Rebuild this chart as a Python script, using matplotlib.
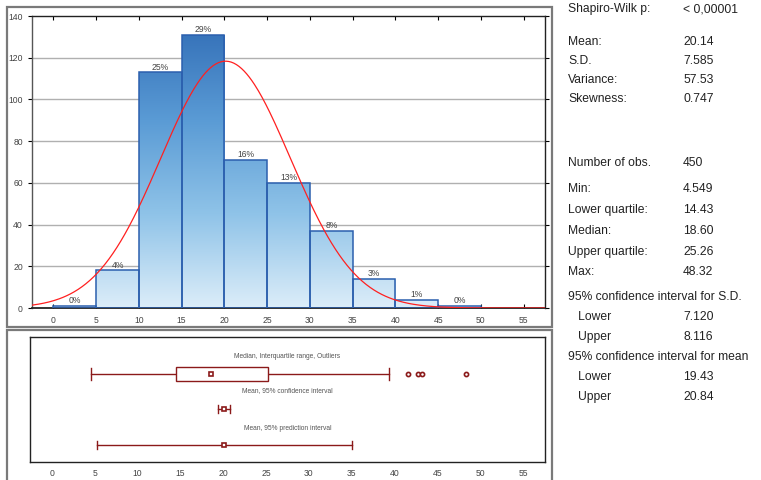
import numpy as np
import matplotlib
matplotlib.use("Agg")
import matplotlib.pyplot as plt
from matplotlib.colors import LinearSegmentedColormap
from matplotlib.patches import Rectangle

plt.rcParams['font.family'] = ['Liberation Sans', 'DejaVu Sans']

# histogram data (bins of width 5)
bin_edges = [0, 5, 10, 15, 20, 25, 30, 35, 40, 45, 50]
counts = [1, 18, 113, 131, 71, 60, 37, 14, 4, 1]
n_obs = 450
mean = 20.14
sd = 7.585

# box plot / interval data
q1, median, q3 = 14.43, 18.60, 25.26
whisker_lo, whisker_hi = 4.549, 39.35
outliers = [41.6, 42.7, 43.2, 48.32]
ci_mean = (19.43, 20.84)
pred_int = (5.26, 35.02)

# summary table on the right
stats_rows = [
    ("Shapiro-Wilk p:", "< 0,00001", 9),
    ("Mean:", "20.14", 42),
    ("S.D.", "7.585", 61),
    ("Variance:", "57.53", 80),
    ("Skewness:", "0.747", 99),
    ("Number of obs.", "450", 163),
    ("Min:", "4.549", 189),
    ("Lower quartile:", "14.43", 210),
    ("Median:", "18.60", 231),
    ("Upper quartile:", "25.26", 252),
    ("Max:", "48.32", 272),
]
ci_rows = [
    ("95% confidence interval for S.D.", None, 297),
    ("   Lower", "7.120", 317),
    ("   Upper", "8.116", 337),
    ("95% confidence interval for mean", None, 357),
    ("   Lower", "19.43", 377),
    ("   Upper", "20.84", 397),
]

W, H = 761, 480
fig = plt.figure(figsize=(W / 100, H / 100), dpi=100)


def px_axes(left, top, right, bottom):
    return fig.add_axes([left / W, 1 - bottom / H, (right - left) / W, (bottom - top) / H])


# panel frames
for (x0, y0, x1, y1) in [(7, 7, 552, 327), (7, 330, 552, 484)]:
    fig.patches.append(Rectangle((x0 / W, 1 - y1 / H), (x1 - x0) / W, (y1 - y0) / H,
                                 transform=fig.transFigure, fill=False,
                                 edgecolor='#7a7a7a', lw=1.6))

# ---- histogram ----
ax = px_axes(32, 16, 545, 308)
xlim = (-2.5, 57.5)
ax.set_xlim(*xlim)
ax.set_ylim(0, 140)

for y in range(20, 140, 20):
    ax.axhline(y, color='#b0b0b0', lw=1.0, zorder=0)

cmap = LinearSegmentedColormap.from_list('bars', ['#dcedf9', '#8fc3e8', '#5a9bd5', '#3470b8'])
grad = np.linspace(0, 1, 256).reshape(-1, 1)
for i, c in enumerate(counts):
    x0 = bin_edges[i]
    w = bin_edges[i + 1] - bin_edges[i]
    bar = Rectangle((x0, 0), w, c, facecolor='none', edgecolor='#2b5fae', lw=1.1, zorder=3)
    ax.add_patch(bar)
    img = ax.imshow(grad, extent=[xlim[0], xlim[1], 0, 135], origin='lower', cmap=cmap,
                    aspect='auto', zorder=2)
    img.set_clip_path(bar)
    pct = 100 * c / n_obs
    ax.text(x0 + w / 2, c + 0.3, f"{pct:.0f}%", ha='center', va='bottom',
            fontsize=6.2, color='#444444', zorder=4)

xs = np.linspace(xlim[0], xlim[1], 400)
pdf = n_obs * 5 / (sd * np.sqrt(2 * np.pi)) * np.exp(-0.5 * ((xs - mean) / sd) ** 2)
ax.plot(xs, pdf, color='#ff2020', lw=0.9, zorder=5)

ax.set_xticks(range(0, 60, 5))
ax.set_yticks(range(0, 160, 20))
ax.tick_params(axis='x', direction='in', top=True, length=3, labelsize=6.2,
               labelcolor='#444444', pad=6)
ax.tick_params(axis='y', direction='out', length=3, labelsize=6.2,
               labelcolor='#444444')
ax.tick_params(axis='y', which='both', right=True)
for s in ax.spines.values():
    s.set_color('#222222')
    s.set_linewidth(1.0)
ax.spines['left'].set_color('#555555')
ax.spines['bottom'].set_linewidth(1.3)

# ---- box plot and intervals ----
bx = px_axes(30, 337, 545, 462)
bx.set_xlim(-2.57, 57.57)
bx.set_ylim(0, 1)
red = '#8b1a1a'

y_box, y_ci, y_pi = 0.704, 0.424, 0.136
bh = 0.112
bx.add_patch(Rectangle((q1, y_box - bh / 2), q3 - q1, bh, facecolor='white',
                       edgecolor=red, lw=1.0, zorder=3))
bx.plot([whisker_lo, q1], [y_box, y_box], color=red, lw=1.0)
bx.plot([q3, whisker_hi], [y_box, y_box], color=red, lw=1.0)
for xw in (whisker_lo, whisker_hi):
    bx.plot([xw, xw], [y_box - 0.045, y_box + 0.045], color=red, lw=1.0)
bx.plot([median], [y_box], marker='s', ms=3.2, mfc='white', mec=red, mew=1.2, zorder=4)
bx.plot(outliers, [y_box] * len(outliers), 'o', ms=3, mfc='white', mec=red, mew=1.2,
        zorder=4)

for (lo, hi), yy in [(ci_mean, y_ci), (pred_int, y_pi)]:
    bx.plot([lo, hi], [yy, yy], color=red, lw=1.0)
    for xw in (lo, hi):
        bx.plot([xw, xw], [yy - 0.03, yy + 0.03], color=red, lw=1.0)
    bx.plot([mean], [yy], marker='s', ms=3.2, mfc='white', mec=red, mew=1.2, zorder=4)

lab_kw = dict(ha='center', va='center', fontsize=4.8, color='#555555',
              transform=bx.transAxes)
bx.text(0.5, 0.848, "Median, Interquartile range, Outliers", **lab_kw)
bx.text(0.5, 0.568, "Mean, 95% confidence interval", **lab_kw)
bx.text(0.5, 0.272, "Mean, 95% prediction interval", **lab_kw)

bx.set_xticks(range(0, 60, 5))
bx.set_yticks([])
bx.tick_params(axis='x', length=0, labelsize=6.2, labelcolor='#444444', pad=5)
for s in bx.spines.values():
    s.set_color('#222222')
    s.set_linewidth(1.0)

# ---- statistics text ----
txt_kw = dict(fontsize=8.7, color='#222222', va='center')
for label, value, ypx in stats_rows + ci_rows:
    fig.text(568 / W, 1 - ypx / H, label, ha='left', **txt_kw)
    if value is not None:
        fig.text(683 / W, 1 - ypx / H, value, ha='left', **txt_kw)

fig.savefig("out.png", dpi=100)
